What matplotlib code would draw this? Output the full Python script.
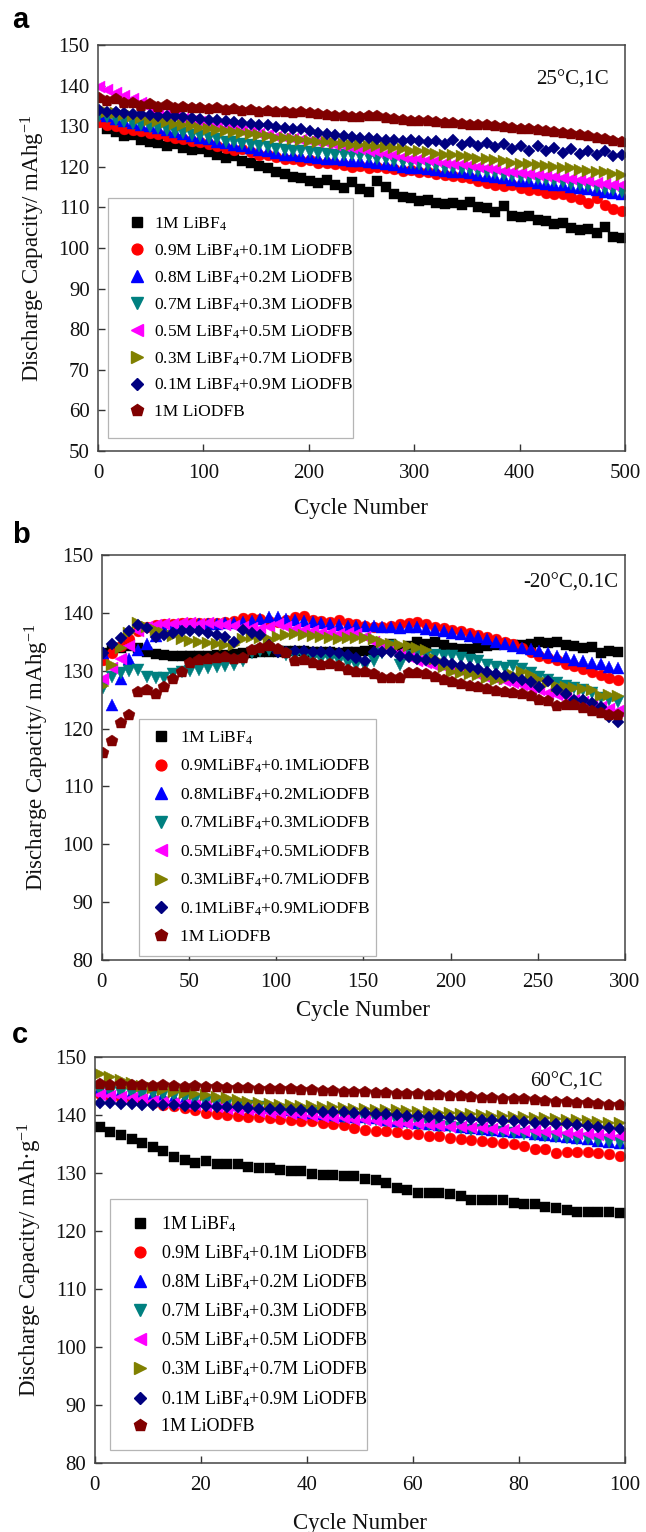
import numpy as np
import matplotlib
matplotlib.use('Agg')
import matplotlib.pyplot as plt
from matplotlib.lines import Line2D

plt.rcParams['font.family'] = ['Liberation Serif', 'DejaVu Serif']
plt.rcParams['mathtext.fontset'] = 'custom'
plt.rcParams['mathtext.rm'] = 'Liberation Serif'
plt.rcParams['mathtext.it'] = 'Liberation Serif:italic'
plt.rcParams['mathtext.bf'] = 'Liberation Serif:bold'

# ---------------- series styling (shared) ----------------
colors = ['#000000', '#ff0000', '#0000ff', '#008080', '#ff00ff', '#808000', '#000080', '#800000']
markers = ['s', 'o', '^', 'v', '<', '>', 'D', 'p']
msizes = [7.4, 7.8, 8.2, 8.2, 8.2, 8.2, 6.2, 8.6]

labels_a = ['1M LiBF$_4$', '0.9M LiBF$_4$+0.1M LiODFB', '0.8M LiBF$_4$+0.2M LiODFB',
            '0.7M LiBF$_4$+0.3M LiODFB', '0.5M LiBF$_4$+0.5M LiODFB', '0.3M LiBF$_4$+0.7M LiODFB',
            '0.1M LiBF$_4$+0.9M LiODFB', '1M LiODFB']
labels_b = ['1M LiBF$_4$', '0.9MLiBF$_4$+0.1MLiODFB', '0.8MLiBF$_4$+0.2MLiODFB',
            '0.7MLiBF$_4$+0.3MLiODFB', '0.5MLiBF$_4$+0.5MLiODFB', '0.3MLiBF$_4$+0.7MLiODFB',
            '0.1MLiBF$_4$+0.9MLiODFB', '1M LiODFB']
labels_c = labels_a

# ---------------- panel a: 25 C, 1C (every 8th cycle) ----------------
cycles_a = np.arange(1, 498, 8)
a_libf4 = [131.0, 129.2, 128.6, 127.5, 127.8, 126.6, 126.2, 125.8, 125.2, 125.5,
           124.6, 124.2, 124.4, 123.6, 123.0, 122.2, 122.6, 121.5, 121.0, 120.2,
           119.6, 118.8, 118.2, 117.6, 117.2, 116.4, 116.0, 116.8, 115.6, 114.8,
           116.2, 114.5, 113.8, 116.6, 115.0, 113.2, 112.6, 112.2, 111.6, 111.8,
           111.2, 110.9, 111.0, 110.6, 111.4, 110.2, 109.8, 108.8, 110.4, 108.0,
           107.6, 107.8, 107.0, 106.6, 105.8, 106.2, 105.0, 104.4, 104.8, 103.6,
           105.2, 102.6, 102.4]
a_09 = [131.0, 130.2, 130.0, 129.4, 129.0, 128.8, 128.4, 128.0, 127.6, 127.2,
        126.8, 126.4, 126.0, 125.6, 125.0, 124.6, 124.2, 124.4, 123.6, 123.0,
        122.8, 122.4, 121.8, 121.9, 121.5, 121.6, 121.0, 120.9, 120.6, 120.4,
        120.0, 120.3, 119.8, 119.9, 119.6, 119.4, 119.0, 119.1, 118.6, 118.7,
        118.3, 118.0, 117.7, 117.6, 117.2, 116.6, 116.0, 115.6, 115.2, 115.6,
        114.8, 114.2, 114.4, 113.6, 113.2, 113.4, 112.6, 112.0, 111.2, 112.4,
        110.6, 109.6, 109.0]
a_08 = [133.0, 132.4, 131.8, 131.2, 130.8, 130.4, 130.0, 129.6, 129.0, 128.6,
        128.0, 127.6, 127.2, 126.8, 126.2, 125.8, 125.4, 125.0, 124.6, 124.2,
        123.8, 123.4, 123.0, 122.8, 122.6, 122.4, 122.2, 122.0, 121.8, 121.7,
        121.5, 121.4, 121.2, 121.0, 120.6, 120.4, 120.0, 119.8, 119.6, 119.4,
        119.2, 119.0, 118.8, 118.6, 118.4, 118.0, 117.8, 117.5, 117.2, 116.8,
        116.6, 116.4, 116.0, 115.8, 115.6, 115.4, 115.0, 114.8, 114.5, 114.2,
        113.9, 113.6, 113.2]
a_07 = [132.6, 132.2, 131.6, 131.0, 130.6, 130.2, 129.8, 129.6, 129.0, 128.6,
        128.4, 127.8, 127.6, 127.0, 126.8, 126.2, 126.0, 125.6, 125.4, 125.0,
        124.8, 124.4, 124.2, 124.0, 123.8, 123.6, 123.4, 123.2, 123.0, 122.8,
        122.8, 122.6, 122.4, 122.0, 121.8, 121.4, 121.2, 121.0, 120.6, 120.4,
        120.2, 119.8, 119.6, 119.4, 119.2, 119.0, 118.6, 118.4, 118.0, 117.8,
        117.4, 117.2, 117.0, 116.8, 116.4, 116.2, 115.8, 115.6, 115.2, 115.0,
        114.6, 114.2, 113.8]
a_05 = [139.6, 138.8, 138.2, 137.4, 136.8, 135.6, 134.4, 133.6, 133.0, 132.4,
        131.8, 131.4, 131.0, 130.6, 130.0, 129.6, 129.2, 128.8, 128.6, 128.2,
        127.8, 127.4, 127.0, 126.8, 126.6, 126.4, 126.0, 125.8, 125.4, 125.0,
        124.6, 124.4, 124.0, 123.6, 123.2, 122.8, 122.4, 122.0, 121.8, 121.6,
        121.4, 121.0, 120.8, 120.6, 120.4, 120.0, 119.8, 119.4, 119.0, 118.8,
        118.4, 118.2, 118.0, 117.8, 117.6, 117.2, 117.0, 116.8, 116.4, 116.0,
        115.8, 115.6, 115.4]
a_03 = [134.0, 133.6, 133.2, 132.8, 132.4, 132.0, 131.6, 131.4, 131.0, 130.6,
        130.4, 130.0, 129.6, 129.4, 129.0, 128.8, 128.6, 128.4, 128.0, 127.8,
        127.6, 127.2, 127.0, 126.8, 126.6, 126.4, 126.2, 126.0, 125.8, 125.6,
        125.4, 125.4, 125.2, 125.0, 124.8, 124.6, 124.3, 124.0, 123.8, 123.6,
        123.2, 123.0, 122.8, 122.6, 122.4, 122.0, 121.8, 121.6, 121.4, 121.0,
        120.8, 120.6, 120.4, 120.2, 120.0, 119.8, 119.6, 119.2, 119.0, 118.8,
        118.6, 118.2, 118.0]
a_01 = [134.0, 133.6, 133.4, 133.2, 133.0, 133.0, 132.8, 132.6, 132.6, 132.4,
        132.2, 132.0, 131.8, 131.6, 131.6, 131.2, 131.0, 130.8, 130.6, 130.4,
        130.2, 129.8, 129.6, 129.4, 129.2, 128.8, 128.4, 128.0, 127.8, 127.6,
        127.4, 127.2, 127.0, 126.8, 126.6, 126.6, 126.4, 126.6, 126.4, 126.2,
        126.4, 125.6, 126.6, 125.4, 126.2, 125.0, 125.8, 124.8, 125.6, 124.4,
        125.2, 124.0, 125.0, 123.8, 124.6, 123.4, 124.4, 123.2, 124.0, 122.8,
        123.8, 122.6, 123.0]
a_liodfb = [137.0, 136.2, 136.6, 135.6, 135.8, 135.0, 135.4, 134.8, 135.2, 134.6,
            134.8, 134.4, 134.6, 134.2, 134.4, 134.0, 134.2, 133.8, 134.0, 133.6,
            133.8, 133.4, 133.6, 133.2, 133.4, 133.2, 133.0, 132.8, 132.6, 132.4,
            132.2, 132.2, 132.4, 132.6, 132.0, 131.8, 131.6, 131.4, 131.4, 131.2,
            131.0, 130.8, 130.8, 130.6, 130.4, 130.4, 130.2, 130.0, 129.8, 129.6,
            129.4, 129.2, 129.0, 128.8, 128.6, 128.4, 128.2, 127.8, 127.6, 127.2,
            126.8, 126.4, 126.0]

# ---------------- panel b: -20 C, 0.1C (every 5th cycle) ----------------
cycles_b = np.arange(1, 297, 5)
b_libf4 = [133.0, 133.5, 134.0, 134.3, 134.0, 133.3, 132.9, 132.7, 132.6, 132.5,
           132.5, 132.6, 132.6, 132.7, 132.8, 132.9, 133.0, 133.1, 133.2, 133.3,
           133.3, 133.4, 133.4, 133.4, 133.3, 133.2, 133.2, 133.1, 133.2, 133.3,
           133.4, 133.6, 134.0, 134.6, 133.4, 134.2, 135.0, 134.6, 135.0, 134.4,
           134.0, 133.8, 133.7, 133.9, 134.2, 134.4, 134.7, 134.5, 134.4, 134.6,
           135.0, 134.8, 135.0, 134.5, 134.2, 133.9, 134.1, 133.1, 133.4, 133.3]
b_09 = [131.8, 133.0, 134.3, 135.5, 136.8, 137.6, 137.9, 138.0, 138.1, 138.2,
        138.2, 138.3, 138.2, 138.3, 138.4, 138.6, 139.1, 139.1, 139.0, 138.6,
        138.4, 138.8, 139.2, 139.4, 138.8, 138.6, 138.4, 138.8, 138.2, 138.0,
        137.8, 137.6, 137.6, 137.8, 138.0, 138.3, 138.4, 138.0, 137.6, 137.3,
        137.0, 136.8, 136.5, 136.2, 135.8, 135.5, 135.0, 134.6, 134.0, 133.3,
        132.6, 132.2, 131.8, 131.2, 130.8, 130.3, 129.8, 129.3, 128.8, 128.4]
b_08 = [133.0, 124.0, 128.5, 132.0, 133.6, 134.6, 136.0, 137.0, 137.5, 137.8,
        137.9, 138.0, 138.0, 138.1, 138.2, 138.2, 138.4, 138.6, 139.0, 139.3,
        139.2, 139.0, 138.8, 138.6, 138.4, 138.2, 138.0, 137.9, 137.8, 137.8,
        137.8, 137.7, 137.6, 137.5, 137.4, 137.5, 137.6, 137.2, 137.0, 136.8,
        136.6, 136.3, 136.0, 135.8, 135.5, 135.0, 134.7, 134.3, 134.0, 133.8,
        133.4, 133.1, 132.6, 132.3, 131.9, 131.7, 131.4, 131.1, 130.7, 130.4]
b_07 = [127.0, 129.0, 129.6, 130.0, 130.2, 129.0, 128.8, 128.7, 129.4, 129.8,
        130.0, 130.2, 130.5, 130.7, 130.8, 131.0, 131.6, 133.0, 133.4, 133.6,
        133.2, 132.8, 132.5, 132.4, 132.2, 132.0, 131.8, 131.6, 131.4, 131.0,
        130.8, 131.6, 133.0, 134.2, 131.0, 132.5, 133.0, 132.8, 132.7, 132.6,
        132.6, 132.2, 131.9, 131.6, 131.0, 130.6, 130.5, 130.8, 130.3, 129.6,
        129.0, 128.4, 127.8, 127.3, 127.0, 126.6, 126.1, 125.3, 124.9, 124.6]
b_05 = [128.6, 130.5, 132.0, 134.3, 136.8, 137.6, 137.9, 138.0, 138.1, 138.2,
        138.2, 138.1, 138.2, 138.0, 137.9, 137.8, 137.6, 137.4, 137.2, 137.6,
        138.0, 137.6, 137.2, 137.0, 136.8, 136.6, 136.5, 136.4, 136.5, 136.4,
        135.8, 135.0, 134.4, 133.8, 133.0, 132.3, 131.7, 131.3, 130.9, 130.6,
        130.2, 129.9, 129.6, 129.2, 128.8, 128.5, 128.2, 127.9, 127.5, 127.0,
        126.6, 126.2, 125.8, 125.4, 125.0, 124.6, 124.2, 123.8, 123.4, 123.0]
b_03 = [127.3, 131.0, 134.0, 136.5, 138.2, 137.6, 137.0, 136.5, 136.0, 135.5,
        135.2, 135.0, 134.8, 134.6, 134.4, 134.5, 135.4, 135.8, 135.6, 135.4,
        135.8, 136.2, 136.4, 136.2, 136.0, 135.8, 135.6, 135.5, 135.6, 135.6,
        135.6, 135.4, 135.0, 134.7, 134.5, 134.2, 134.0, 133.6, 132.0, 130.6,
        129.8, 129.6, 129.4, 129.2, 128.8, 128.4, 128.6, 129.2, 129.8, 129.2,
        128.4, 127.8, 127.4, 127.2, 127.0, 126.8, 126.6, 125.6, 125.8, 125.7]
b_01 = [133.1, 134.7, 135.6, 136.8, 137.9, 137.3, 135.9, 136.2, 136.5, 136.8,
        136.8, 136.8, 136.5, 136.2, 135.9, 135.0, 137.0, 136.5, 136.2, 134.5,
        133.3, 133.3, 133.4, 133.4, 133.3, 133.2, 133.2, 133.0, 132.8, 132.2,
        131.6, 133.3, 133.3, 133.3, 132.6, 132.3, 132.1, 131.9, 131.7, 131.5,
        131.2, 130.9, 130.6, 130.3, 129.8, 129.4, 129.1, 128.8, 128.4, 128.0,
        127.2, 128.2, 126.7, 125.9, 125.0, 124.9, 124.5, 123.7, 122.0, 121.2]
b_liodfb = [115.8, 117.8, 121.0, 122.4, 126.4, 126.6, 126.0, 127.2, 128.6, 129.8,
            131.4, 131.8, 132.0, 132.2, 132.4, 132.0, 132.2, 133.6, 134.0, 134.2,
            133.8, 133.0, 131.6, 131.8, 131.4, 131.0, 131.2, 130.8, 130.2, 129.8,
            129.8, 129.4, 128.8, 128.7, 128.7, 129.6, 129.6, 129.4, 128.9, 128.4,
            128.0, 127.7, 127.4, 127.1, 126.8, 126.5, 126.4, 126.2, 125.9, 125.6,
            125.0, 124.7, 123.9, 124.1, 124.1, 123.6, 123.0, 122.7, 122.4, 122.3]

# ---------------- panel c: 60 C, 1C (every 2nd cycle) ----------------
cycles_c = np.arange(1, 100, 2)
c_libf4 = [138.0, 137.0, 136.6, 135.8, 135.1, 134.4, 133.8, 132.8, 132.2, 131.8,
           132.1, 131.6, 131.5, 131.5, 131.1, 130.9, 130.9, 130.5, 130.3, 130.4,
           129.8, 129.7, 129.7, 129.5, 129.4, 129.0, 128.8, 128.2, 127.4, 127.1,
           126.6, 126.5, 126.5, 126.4, 126.0, 125.3, 125.3, 125.3, 125.3, 124.9,
           124.7, 124.7, 124.2, 124.0, 123.7, 123.3, 123.3, 123.2, 123.2, 123.1]
c_09 = [143.6, 143.3, 143.0, 142.7, 142.4, 142.1, 141.8, 141.5, 141.2, 140.9,
        140.3, 140.2, 140.0, 139.9, 139.7, 139.6, 139.4, 139.3, 139.2, 139.0,
        138.9, 138.7, 138.5, 138.2, 137.8, 137.4, 137.3, 137.3, 137.0, 136.8,
        136.8, 136.3, 136.3, 136.1, 135.9, 135.7, 135.5, 135.3, 135.1, 135.0,
        134.7, 134.1, 134.1, 133.4, 133.7, 133.6, 133.6, 133.4, 133.3, 133.0]
c_08 = [144.5, 144.3, 144.0, 143.8, 143.6, 143.4, 143.2, 143.0, 142.8, 142.6,
        142.4, 142.2, 142.0, 141.8, 141.6, 141.4, 141.2, 141.0, 140.8, 140.6,
        140.4, 140.2, 140.0, 139.9, 139.7, 139.6, 139.4, 139.2, 139.0, 138.9,
        138.7, 138.5, 138.3, 138.2, 138.0, 137.8, 137.6, 137.5, 137.3, 137.1,
        137.0, 136.8, 136.6, 136.4, 136.2, 136.0, 135.8, 135.6, 135.4, 135.2]
c_07 = [144.2, 144.0, 143.8, 143.6, 143.5, 143.6, 143.4, 143.2, 142.9, 142.6,
        142.3, 142.1, 141.9, 141.7, 141.5, 141.3, 141.1, 140.9, 140.7, 140.5,
        140.3, 140.1, 139.9, 139.7, 139.5, 139.3, 139.1, 139.0, 138.8, 138.6,
        138.4, 138.2, 138.1, 137.9, 137.7, 137.5, 137.4, 137.2, 137.0, 136.9,
        136.7, 136.6, 136.4, 136.2, 136.1, 135.9, 135.8, 135.6, 135.4, 135.2]
c_05 = [143.5, 143.3, 143.1, 142.9, 142.7, 142.5, 142.3, 142.1, 141.9, 141.7,
        141.5, 141.3, 141.1, 140.9, 140.8, 140.6, 140.4, 140.3, 140.1, 140.0,
        139.8, 139.7, 139.5, 139.4, 139.2, 139.1, 138.9, 138.8, 138.7, 138.5,
        138.4, 138.3, 138.1, 138.0, 137.9, 137.8, 137.7, 137.6, 137.5, 137.4,
        137.3, 137.2, 137.1, 137.0, 136.9, 136.8, 136.7, 136.6, 136.5, 136.4]
c_03 = [147.0, 146.5, 146.0, 145.5, 145.0, 144.6, 144.3, 144.0, 143.8, 143.6,
        143.4, 143.1, 142.9, 142.6, 142.3, 142.1, 141.9, 141.8, 141.7, 141.6,
        141.5, 141.4, 141.3, 141.2, 141.1, 141.0, 140.9, 140.8, 140.8, 140.7,
        140.6, 140.5, 140.4, 140.3, 140.2, 140.1, 140.0, 139.9, 139.8, 139.7,
        139.6, 139.5, 139.4, 139.3, 139.2, 139.1, 138.9, 138.8, 138.7, 138.6]
c_01 = [142.0, 142.0, 141.9, 141.9, 141.8, 141.8, 141.7, 141.7, 141.6, 141.6,
        141.5, 141.4, 141.4, 141.3, 141.2, 141.1, 141.0, 141.0, 140.9, 140.8,
        140.7, 140.6, 140.6, 140.5, 140.4, 140.3, 140.2, 140.1, 140.0, 139.9,
        139.8, 139.7, 139.6, 139.5, 139.4, 139.3, 139.2, 139.1, 139.0, 138.9,
        138.8, 138.7, 138.6, 138.5, 138.4, 138.2, 138.1, 137.9, 137.8, 137.6]
c_liodfb = [145.3, 145.2, 145.3, 145.2, 145.1, 145.0, 145.1, 145.0, 144.9, 145.0,
            144.9, 144.9, 144.7, 144.6, 144.6, 144.5, 144.5, 144.4, 144.4, 144.3,
            144.3, 144.2, 144.1, 144.0, 144.0, 143.9, 143.8, 143.8, 143.7, 143.6,
            143.6, 143.5, 143.4, 143.3, 143.2, 143.1, 143.0, 142.9, 142.8, 142.8,
            142.7, 142.6, 142.5, 142.3, 142.2, 142.1, 142.0, 141.9, 141.8, 141.7]

series_a = [a_libf4, a_09, a_08, a_07, a_05, a_03, a_01, a_liodfb]
series_b = [b_libf4, b_09, b_08, b_07, b_05, b_03, b_01, b_liodfb]
series_c = [c_libf4, c_09, c_08, c_07, c_05, c_03, c_01, c_liodfb]

# ---------------- figure ----------------
W, H = 646, 1532
fig = plt.figure(figsize=(W / 100, H / 100), dpi=100)


def rect(l, t, r, b):
    return [l / W, 1 - b / H, (r - l) / W, (b - t) / H]


def panel(ax_rect, cycles, series, labels, xlim, xstep, ylim, ylabel, note, note_xy,
          leg_box, leg_fs, leg_ls, leg_bp, leg_hl, leg_htp, xlabelpad):
    ax = fig.add_axes(rect(*ax_rect))
    for ys, c, m, ms in zip(series, colors, markers, msizes):
        ax.plot(cycles, ys, ls='none', marker=m, ms=ms, color=c, mec=c, mew=0.3)
    ax.set_xlim(*xlim)
    ax.set_ylim(*ylim)
    ax.set_xticks(np.arange(xlim[0], xlim[1] + 1, xstep))
    ax.set_yticks(np.arange(ylim[0], ylim[1] + 1, 10))
    ax.tick_params(direction='in', length=5, width=1.0, labelsize=15,
                   top=False, right=False, colors='#333333', labelcolor='#111111')
    ax.tick_params(axis='x', pad=9.5)
    ax.tick_params(axis='y', pad=6)
    for s in ax.spines.values():
        s.set_linewidth(1.1)
        s.set_color('#444444')
    ax.set_xlabel('Cycle Number', fontsize=16.5, labelpad=xlabelpad, color='#111111')
    ax.set_ylabel(ylabel, fontsize=16.5, labelpad=8, color='#111111')
    ax.text(note_xy[0], note_xy[1], note, transform=ax.transAxes, ha='right', va='center',
            fontsize=15, color='#111111')
    handles = [Line2D([], [], ls='none', marker=m, ms=ms, color=c, mec=c)
               for c, m, ms in zip(colors, markers, msizes)]
    l, t, r, b = leg_box
    leg = ax.legend(handles, labels, loc='upper left',
                    bbox_to_anchor=(l / W, 1 - t / H, (r - l) / W, 0),
                    bbox_transform=fig.transFigure, mode='expand', borderaxespad=0,
                    fontsize=leg_fs, labelspacing=leg_ls, handlelength=leg_hl,
                    handletextpad=leg_htp, borderpad=leg_bp, frameon=True, fancybox=False,
                    edgecolor='#b5b5b5', framealpha=1)
    leg.get_frame().set_linewidth(0.9)
    return ax


panel((98, 45, 625, 451), cycles_a, series_a, labels_a, (0, 500), 100, (50, 150),
      'Discharge Capacity/ mAhg$^{-1}$', '25\u00b0C,1C', (0.970, 0.914),
      (108, 198, 353, 438), 12.5, 0.55, 1.0, 1.3, 0.35, 11)
panel((101.5, 555, 625, 960), cycles_b, series_b, labels_b, (0, 300), 50, (80, 150),
      'Discharge Capacity/ mAhg$^{-1}$', '-20\u00b0C,0.1C', (0.988, 0.931),
      (139, 719, 376, 951), 12.5, 0.64, 0.6, 1.3, 0.45, 5.5)
panel((94.5, 1057, 625, 1463), cycles_c, series_c, labels_c, (0, 100), 20, (80, 150),
      'Discharge Capacity/ mAh\u00b7g$^{-1}$', '60\u00b0C,1C', (0.957, 0.938),
      (110, 1199, 367, 1447), 13, 0.52, 0.85, 1.6, 0.4, 13)

for lab, yb in (('a', 28), ('b', 543), ('c', 1043)):
    fig.text(12 / W, 1 - yb / H, lab, fontsize=21, fontweight='bold',
             family=['Liberation Sans', 'DejaVu Sans'], va='baseline', ha='left')

fig.savefig('out.png', dpi=100)
